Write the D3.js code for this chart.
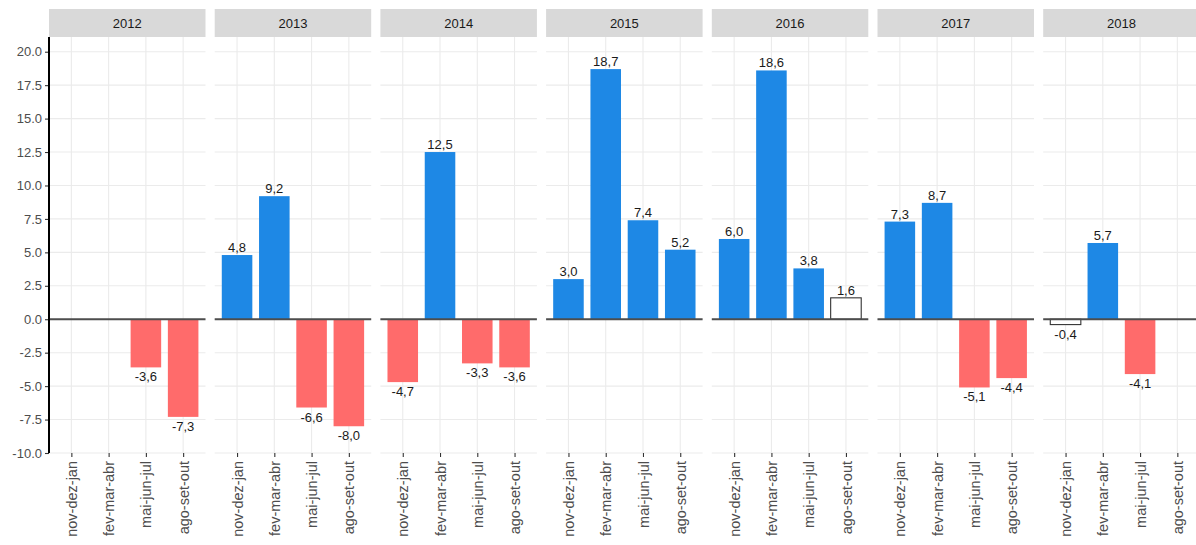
<!DOCTYPE html>
<html>
<head>
<meta charset="utf-8">
<script src="https://cdn.jsdelivr.net/npm/d3@7"></script>
<style>
  body { margin: 0; background: #fff; }
  svg { display: block; font-family: "Liberation Sans", Arial, sans-serif; }
</style>
</head>
<body>
<div id="chart"></div>
<script>
// data (variação %, por trimestre móvel)
var years = ["2012", "2013", "2014", "2015", "2016", "2017", "2018"];
var periods = ["nov-dez-jan", "fev-mar-abr", "mai-jun-jul", "ago-set-out"];
var v2012 = [null, null, -3.6, -7.3];
var v2013 = [4.8, 9.2, -6.6, -8.0];
var v2014 = [-4.7, 12.5, -3.3, -3.6];
var v2015 = [3.0, 18.7, 7.4, 5.2];
var v2016 = [6.0, 18.6, 3.8, 1.6];
var v2017 = [7.3, 8.7, -5.1, -4.4];
var v2018 = [-0.4, 5.7, -4.1, null];
var yTicks = [-10, -7.5, -5, -2.5, 0, 2.5, 5, 7.5, 10, 12.5, 15, 17.5, 20];

var allVals = [v2012, v2013, v2014, v2015, v2016, v2017, v2018];

var W = 1196, H = 545;
var left = 49, panelW = 156.5, gap = 9.2;
var stripTop = 9, stripBottom = 37, plotBottom = 453;

var svg = d3.select("#chart").append("svg")
    .attr("width", W).attr("height", H);

var y = d3.scaleLinear().domain([-10, 21.1]).range([plotBottom, stripBottom]);

// plain hyphen instead of d3's unicode minus
function fixed1(v) { return (v < 0 ? "-" : "") + Math.abs(v).toFixed(1); }
function fmt(v) { return fixed1(v).replace(".", ","); }
function fillOf(v) {
  if (Math.abs(v) < 2) return "#ffffff";
  return v > 0 ? "#1E88E5" : "#FF6B6B";
}

years.forEach(function(yr, i) {
  var x0 = left + i * (panelW + gap);
  var x = d3.scalePoint().domain(periods).range([x0, x0 + panelW]).padding(0.6);
  var bw = x.step() * 0.82;
  var g = svg.append("g");

  // strip
  g.append("rect")
    .attr("x", x0).attr("y", stripTop)
    .attr("width", panelW).attr("height", stripBottom - stripTop)
    .attr("fill", "#D9D9D9");
  g.append("text")
    .attr("x", x0 + panelW / 2).attr("y", (stripTop + stripBottom) / 2 + 4.5)
    .attr("text-anchor", "middle")
    .attr("font-size", 13).attr("fill", "#1A1A1A")
    .text(yr);

  // grid
  g.selectAll(".hg").data(yTicks).enter().append("line")
    .attr("x1", x0).attr("x2", x0 + panelW)
    .attr("y1", function(d) { return y(d); }).attr("y2", function(d) { return y(d); })
    .attr("stroke", "#EBEBEB").attr("stroke-width", 1.1);
  g.selectAll(".vg").data(periods).enter().append("line")
    .attr("x1", function(d) { return x(d); }).attr("x2", function(d) { return x(d); })
    .attr("y1", stripBottom).attr("y2", plotBottom)
    .attr("stroke", "#EBEBEB").attr("stroke-width", 1.1);

  // bottom axis (ticks + rotated labels)
  var ax = g.append("g")
    .attr("transform", "translate(0," + plotBottom + ")")
    .call(d3.axisBottom(x).tickSize(4).tickPadding(4));
  ax.select(".domain").remove();
  ax.selectAll(".tick line").attr("stroke", "#333").attr("stroke-width", 1.1);
  ax.selectAll(".tick text")
    .attr("font-size", 14.5).attr("fill", "#4D4D4D")
    .attr("font-family", "Liberation Sans, Arial, sans-serif")
    .attr("transform", "rotate(-90)")
    .attr("text-anchor", "end")
    .attr("x", -8).attr("y", 0).attr("dy", "0.35em");

  var data = periods.map(function(p, k) { return { p: p, v: allVals[i][k] }; })
    .filter(function(d) { return d.v !== null; });

  // bars
  g.selectAll(".bar").data(data).enter().append("rect")
    .attr("x", function(d) { return x(d.p) - bw / 2; })
    .attr("width", bw)
    .attr("y", function(d) { return y(Math.max(0, d.v)); })
    .attr("height", function(d) { return Math.abs(y(d.v) - y(0)); })
    .attr("fill", function(d) { return fillOf(d.v); })
    .attr("stroke", function(d) { return Math.abs(d.v) < 2 ? "#333" : "none"; })
    .attr("stroke-width", 1.1);

  // zero line
  g.append("line")
    .attr("x1", x0).attr("x2", x0 + panelW)
    .attr("y1", y(0)).attr("y2", y(0))
    .attr("stroke", "#4D4D4D").attr("stroke-width", 2);

  // value labels
  g.selectAll(".lab").data(data).enter().append("text")
    .attr("x", function(d) { return x(d.p); })
    .attr("y", function(d) { return d.v >= 0 ? y(d.v) - 3 : y(d.v) + 14; })
    .attr("text-anchor", "middle")
    .attr("font-size", 13).attr("fill", "#1A1A1A")
    .text(function(d) { return fmt(d.v); });
});

// left axis
var yAx = svg.append("g")
  .attr("transform", "translate(" + left + ",0)")
  .call(d3.axisLeft(y).tickValues(yTicks).tickFormat(fixed1).tickSize(4).tickPadding(3));
yAx.select(".domain").remove();
yAx.selectAll(".tick line").attr("stroke", "#333").attr("stroke-width", 1.1);
yAx.selectAll(".tick text").attr("font-size", 13).attr("fill", "#4D4D4D")
  .attr("font-family", "Liberation Sans, Arial, sans-serif");
svg.append("line")
  .attr("x1", left).attr("x2", left)
  .attr("y1", stripBottom).attr("y2", plotBottom)
  .attr("stroke", "#000").attr("stroke-width", 2);
</script>
</body>
</html>
